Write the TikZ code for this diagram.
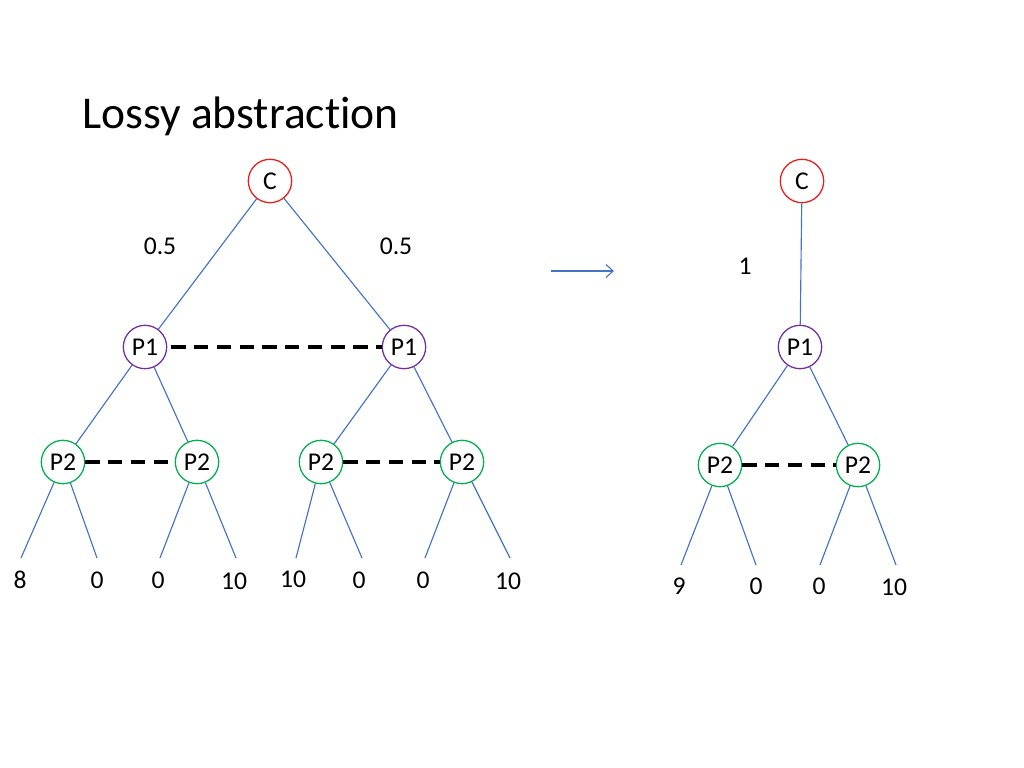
\documentclass[tikz,border=0pt]{standalone}
\usepackage{fontspec}
\setmainfont{Carlito}[Ligatures=NoCommon]
\usetikzlibrary{arrows.meta}
\definecolor{edgeblue}{HTML}{4472C4}
\definecolor{cred}{HTML}{EE1C1C}
\definecolor{ppurple}{HTML}{7030A0}
\definecolor{pgreen}{HTML}{00B050}
\begin{document}
\begin{tikzpicture}[x=0.703125pt,y=-0.703125pt,
  every node/.style={font=\fontsize{18}{21}\selectfont, inner sep=0pt},
  gnode/.style={circle, draw, line width=0.9pt, minimum size=30.5pt, fill=white},
  chance/.style={gnode, draw=cred},
  pone/.style={gnode, draw=ppurple},
  ptwo/.style={gnode, draw=pgreen},
  edge/.style={draw=edgeblue, line width=0.8pt},
  info/.style={draw=black, line width=2.4pt, dash pattern=on 10pt off 6pt},
  lbl/.style={anchor=center}]
\useasboundingbox (0,0) rectangle (1024,768);
\fill[white] (0,0) rectangle (1024,768);

\node[anchor=base west, font=\fontsize{32}{38}\selectfont] (title) at (82,129) {Lossy abstraction};

% left tree
\node[chance] (c) at (270,181) {C};
\node[pone] (p1l) at (145,347) {P1};
\node[pone] (p1r) at (404,347) {P1};
\node[ptwo] (a) at (63,462) {P2};
\node[ptwo] (b) at (197,462) {P2};
\node[ptwo] (d) at (321,462) {P2};
\node[ptwo] (e) at (462,462) {P2};

\draw[edge] (c) -- (p1l);
\draw[edge] (c) -- (p1r);
\draw[edge] (p1l) -- (a);
\draw[edge] (p1l) -- (b);
\draw[edge] (p1r) -- (d);
\draw[edge] (p1r) -- (e);

\node[lbl] (w1) at (160,246) {0.5};
\node[lbl] (w2) at (396,246) {0.5};

\path (p1l.east) ++(4,0) coordinate (i1s);
\draw[info] (i1s) -- (p1r.west);
\draw[info] (a.east) -- (b.west);
\draw[info] (d.east) -- (e.west);

\coordinate (l1) at (21,558);
\coordinate (l2) at (97,558);
\coordinate (l3) at (160,558);
\coordinate (l4) at (236,558);
\coordinate (l5) at (296,558);
\coordinate (l6) at (362,558);
\coordinate (l7) at (425,558);
\coordinate (l8) at (510,558);
\draw[edge] (a) -- (l1);
\draw[edge] (a) -- (l2);
\draw[edge] (b) -- (l3);
\draw[edge] (b) -- (l4);
\draw[edge] (d) -- (l5);
\draw[edge] (d) -- (l6);
\draw[edge] (e) -- (l7);
\draw[edge] (e) -- (l8);

\node[lbl] (t1) at (20,580) {8};
\node[lbl] (t2) at (97,580) {0};
\node[lbl] (t3) at (158,580) {0};
\node[lbl] (t4) at (234,581) {10};
\node[lbl] (t5) at (293,579) {10};
\node[lbl] (t6) at (359,580) {0};
\node[lbl] (t7) at (423,580) {0};
\node[lbl] (t8) at (508,581) {10};

% arrow
\coordinate (as) at (551,271);
\coordinate (ae) at (614,271);
\draw[edge, -{Straight Barb[length=5pt,width=9pt]}] (as) -- (ae);

% right tree
\node[chance] (rc) at (802,181) {C};
\node[pone] (rp1) at (800,347) {P1};
\node[ptwo] (ra) at (720,465) {P2};
\node[ptwo] (rb) at (858,465) {P2};
\draw[edge] (rc) -- (rp1);
\draw[edge] (rp1) -- (ra);
\draw[edge] (rp1) -- (rb);
\node[lbl] (w3) at (745,266) {1};
\draw[info] (ra.east) -- (rb.west);

\coordinate (r1) at (681,565);
\coordinate (r2) at (756,565);
\coordinate (r3) at (820,565);
\coordinate (r4) at (896,565);
\draw[edge] (ra) -- (r1);
\draw[edge] (ra) -- (r2);
\draw[edge] (rb) -- (r3);
\draw[edge] (rb) -- (r4);

\node[lbl] (s1) at (679,586) {9};
\node[lbl] (s2) at (756,586) {0};
\node[lbl] (s3) at (819,586) {0};
\node[lbl] (s4) at (894,587) {10};
\end{tikzpicture}
\end{document}
